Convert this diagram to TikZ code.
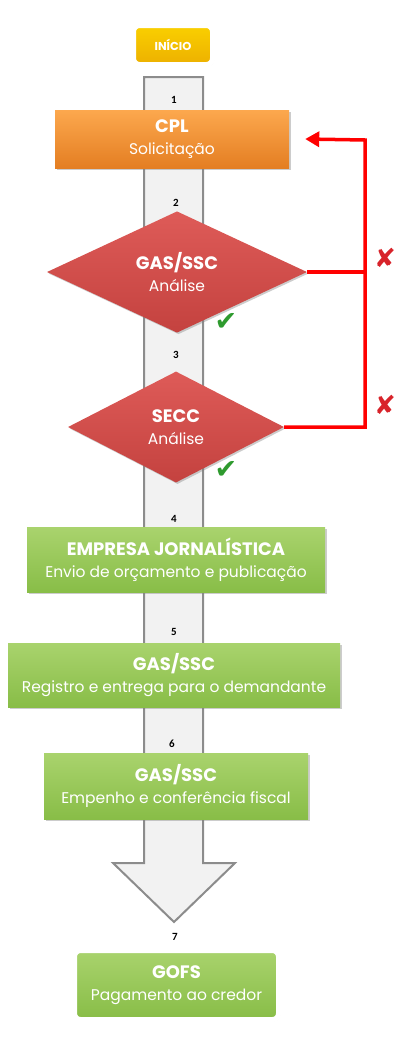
\documentclass[tikz,border=0pt]{standalone}
\usepackage{fontspec}
\setmainfont{Poppins}
\newfontfamily\numfont{Carlito}
\newfontfamily\symfont{DejaVu Sans}
\usetikzlibrary{shapes.geometric}
\usetikzlibrary{shadows}
\usetikzlibrary{arrows.meta}

\definecolor{orangetop}{HTML}{FCA84E}
\definecolor{orangebot}{HTML}{E47E22}
\definecolor{redtop}{HTML}{DE5B58}
\definecolor{redbot}{HTML}{C4423F}
\definecolor{greentop}{HTML}{A9D36D}
\definecolor{greenbot}{HTML}{88BD47}
\definecolor{yellowtop}{HTML}{FAD000}
\definecolor{yellowbot}{HTML}{EDB000}
\definecolor{arrowfill}{HTML}{F2F2F2}
\definecolor{arrowline}{HTML}{8C8C8C}
\definecolor{okgreen}{HTML}{2E9A2E}
\definecolor{nored}{HTML}{D8232A}

\newcommand{\steptext}[2]{{\fontsize{18}{22}\selectfont\bfseries #1}\\{#2}}

\tikzset{
  softshadow/.style={drop shadow={opacity=0.4,shadow xshift=1.5pt,shadow yshift=-1.5pt}},
  stepbox/.style={rectangle,text=white,align=center,inner sep=0pt,softshadow,
    font=\fontsize{15.5}{22}\selectfont},
  orangebox/.style={stepbox,top color=orangetop,bottom color=orangebot},
  greenbox/.style={stepbox,top color=greentop,bottom color=greenbot},
  framedbox/.style={rectangle,rounded corners=6pt,draw=white,line width=5pt,
    text=white,align=center,inner sep=0pt,softshadow,
    font=\fontsize{15.5}{22}\selectfont},
  decision/.style={diamond,text=white,align=center,inner sep=0pt,
    top color=redtop,bottom color=redbot,softshadow,
    font=\fontsize{15.5}{22}\selectfont},
  stepnum/.style={font=\numfont\bfseries\fontsize{11}{11}\selectfont,inner sep=0pt},
  okmark/.style={font=\symfont\fontsize{27}{27}\selectfont,text=okgreen,inner sep=0pt},
  nomark/.style={font=\symfont\fontsize{26}{26}\selectfont,text=nored,inner sep=0pt},
  fb/.style={draw=red,line width=3.5pt}
}

\begin{document}
\begin{tikzpicture}[x=1pt,y=-1pt]
  % Constants
  \pgfmathsetmacro\sl{144}
  \pgfmathsetmacro\sr{203}
  \pgfmathsetmacro\hl{113}
  \pgfmathsetmacro\hr{235}
  \pgfmathsetmacro\hy{863}
  % Boundary
  \path[use as bounding box] (0,0) rectangle (408,1044);
  % Flow arrow
  \draw[fill=arrowfill,draw=arrowline,line width=2pt,line join=miter]
    (\sl,77) -- (\sr,77) -- (\sr,\hy) -- (\hr,\hy) -- (174,922)
    -- (\hl,\hy) -- (\sl,\hy) -- cycle;
  % Steps
  \node[framedbox,top color=yellowtop,bottom color=yellowbot,
    minimum width=79pt,minimum height=39pt,
    font=\bfseries\fontsize{11.5}{13}\selectfont] (inicio) at (173,45) {INÍCIO};
  \node[orangebox,minimum width=234pt,minimum height=58pt] (cpl) at (172,139)
    {\steptext{CPL}{Solicitação}};
  \node[decision,minimum width=260pt,minimum height=113pt] (gas) at (177,272)
    {\steptext{GAS/SSC}{Análise}};
  \node[decision,minimum width=216pt,minimum height=111pt] (secc) at (176,427)
    {\steptext{SECC}{Análise}};
  \node[greenbox,minimum width=298pt,minimum height=65pt] (emp) at (176,560)
    {\steptext{EMPRESA JORNALÍSTICA}{Envio de orçamento e publicação}};
  \node[greenbox,minimum width=332pt,minimum height=64pt] (reg) at (174,675)
    {\steptext{GAS/SSC}{Registro e entrega para o demandante}};
  \node[greenbox,minimum width=264pt,minimum height=66pt] (emph) at (176,786)
    {\steptext{GAS/SSC}{Empenho e conferência fiscal}};
  \node[framedbox,top color=greentop,bottom color=greenbot,
    minimum width=204pt,minimum height=69pt] (gofs) at (176.5,985)
    {\steptext{GOFS}{Pagamento ao credor}};
  % Step numbers
  \node[stepnum] (n1) at (174,100) {1};
  \node[stepnum] (n2) at (176,203) {2};
  \node[stepnum] (n3) at (176,355) {3};
  \node[stepnum] (n4) at (174,519) {4};
  \node[stepnum] (n5) at (174,632) {5};
  \node[stepnum] (n6) at (172,744) {6};
  \node[stepnum] (n7) at (175,937) {7};
  % Decisions
  \node[okmark] (ok1) at (226,322) {✔};
  \node[okmark] (ok2) at (226,470) {✔};
  \node[nomark] (no1) at (385,258) {✘};
  \node[nomark] (no2) at (385,405) {✘};
  % Return to CPL
  \coordinate (ret) at (365,140);
  \draw[fb] (gas.east) -- (gas.east -| ret);
  \draw[fb,-{Triangle[length=14pt,width=15pt]}] (secc.east) -| (ret)
    -- ([xshift=16pt]cpl.east);
\end{tikzpicture}
\end{document}
